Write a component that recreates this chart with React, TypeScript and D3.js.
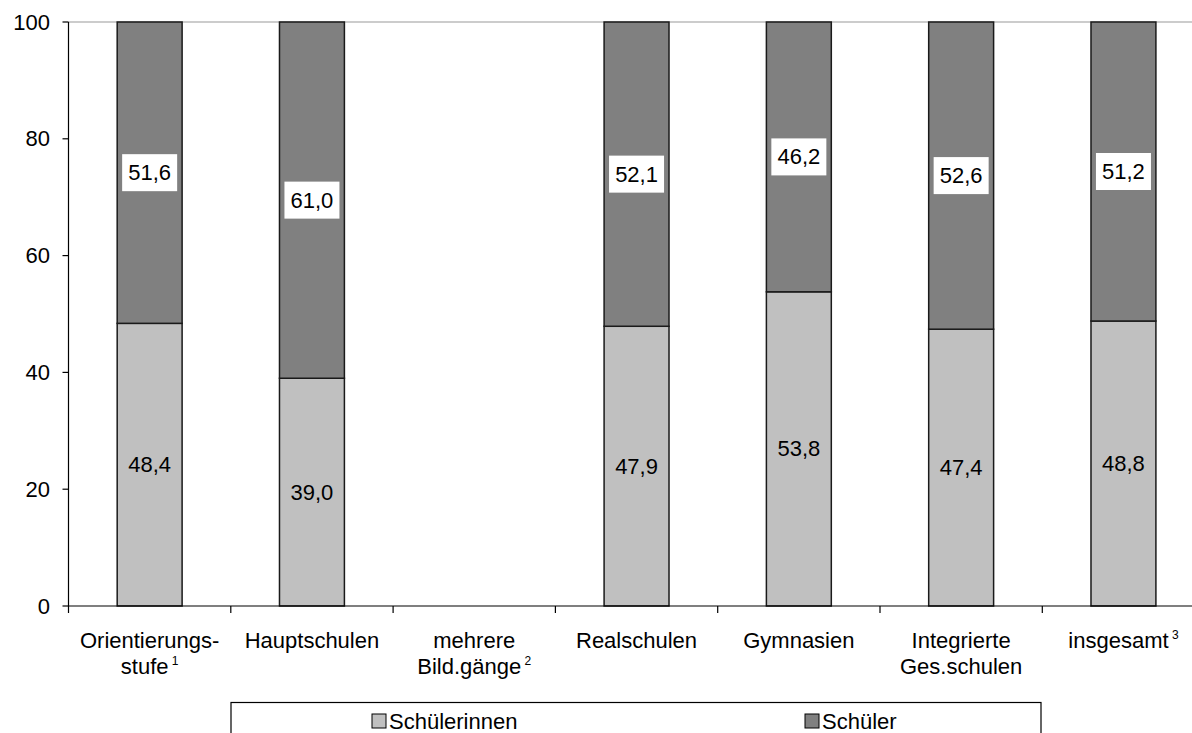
import React from "react";
import * as d3 from "d3";

const categories = ["Orientierungsstufe", "Hauptschulen", "mehrere Bild.gänge", "Realschulen", "Gymnasien", "Integrierte Ges.schulen", "insgesamt"];
const labelLines: [string, string, string][] = [
  ["Orientierungs-", "stufe", "1"],
  ["Hauptschulen", "", ""],
  ["mehrere", "Bild.gänge", "2"],
  ["Realschulen", "", ""],
  ["Gymnasien", "", ""],
  ["Integrierte", "Ges.schulen", ""],
  ["insgesamt", "", "3"],
];
const schuelerinnen: (number | null)[] = [48.4, 39.0, null, 47.9, 53.8, 47.4, 48.8];
const schueler: (number | null)[] = [51.6, 61.0, null, 52.1, 46.2, 52.6, 51.2];
const yTicks = [0, 20, 40, 60, 80, 100];
const legendLabels = ["Schülerinnen", "Schüler"];
const colors = ["#c0c0c0", "#808080"];

const W = 1192;
const H = 733;
const left = 68.5;
const right = 68.5 + 7 * 162.3;
const top = 22;
const bottom = 606;
const FONT = "Arial, 'Liberation Sans', sans-serif";
const FS = 22;

const fmt = (v: number) => v.toFixed(1).replace(".", ",");

export default function App() {
  const x = d3.scaleBand<string>().domain(categories).range([left, right]).paddingInner(0.6).paddingOuter(0.3);
  const y = d3.scaleLinear().domain([0, 100]).range([bottom, top]);
  const step = x.step();
  const bw = x.bandwidth();

  return (
    <svg width={W} height={H} style={{ position: "absolute", left: 0, top: 0, background: "#fff" }} fontFamily={FONT}>
      <rect x={0} y={0} width={W} height={H} fill="#fff" />
      {/* top grid line */}
      <line x1={left} x2={right} y1={y(100)} y2={y(100)} stroke="#999" strokeWidth={1.2} />
      {/* bars */}
      {categories.map((c, i) => {
        const a = schuelerinnen[i];
        const b = schueler[i];
        if (a == null || b == null) return null;
        const x0 = x(c)!;
        const cx = x0 + bw / 2;
        const yA = y(a);
        const yB = y(a + b);
        const boxW = 55;
        const boxH = 37;
        const midA = (y(0) + yA) / 2;
        const midB = (yA + yB) / 2;
        return (
          <g key={c}>
            <rect x={x0} y={yA} width={bw} height={y(0) - yA} fill={colors[0]} stroke="#1a1a1a" strokeWidth={1.5} />
            <rect x={x0} y={yB} width={bw} height={yA - yB} fill={colors[1]} stroke="#1a1a1a" strokeWidth={1.5} />
            <text x={cx} y={midA} textAnchor="middle" dominantBaseline="central" fontSize={FS} fill="#000">{fmt(a)}</text>
            <rect x={cx - boxW / 2} y={midB - boxH / 2} width={boxW} height={boxH} fill="#fff" />
            <text x={cx} y={midB} textAnchor="middle" dominantBaseline="central" fontSize={FS} fill="#000">{fmt(b)}</text>
          </g>
        );
      })}
      {/* y axis */}
      <line x1={left} x2={left} y1={top} y2={bottom} stroke="#000" strokeWidth={1.2} />
      {yTicks.map((t) => (
        <g key={t}>
          <line x1={left - 6} x2={left} y1={y(t)} y2={y(t)} stroke="#000" strokeWidth={1.2} />
          <text x={50} y={y(t)} textAnchor="end" dominantBaseline="central" fontSize={FS} fill="#000">{t}</text>
        </g>
      ))}
      {/* x axis */}
      <line x1={left} x2={right} y1={bottom} y2={bottom} stroke="#000" strokeWidth={1.2} />
      {d3.range(categories.length + 1).map((i) => (
        <line key={i} x1={left + i * step} x2={left + i * step} y1={bottom} y2={bottom + 7} stroke="#000" strokeWidth={1.2} />
      ))}
      {categories.map((c, i) => {
        const cx = x(c)! + bw / 2;
        const [l1, l2, sup] = labelLines[i];
        return (
          <g key={c}>
            <text x={cx} y={648} textAnchor="middle" fontSize={FS} fill="#000">
              {l1}
              {sup && !l2 ? <tspan fontSize={12} dy={-9}>{" " + sup}</tspan> : null}
            </text>
            {l2 ? (
              <text x={cx} y={674} textAnchor="middle" fontSize={FS} fill="#000">
                {l2}
                {sup ? <tspan fontSize={12} dy={-9}>{" " + sup}</tspan> : null}
              </text>
            ) : null}
          </g>
        );
      })}
      {/* legend */}
      <rect x={231} y={702.5} width={810} height={50} fill="#fff" stroke="#000" strokeWidth={1.2} />
      {legendLabels.map((l, i) => {
        const sx = i === 0 ? 372 : 805;
        return (
          <g key={l}>
            <rect x={sx} y={714} width={14} height={14} fill={colors[i]} stroke="#000" strokeWidth={1} />
            <text x={sx + 17} y={729} fontSize={FS} fill="#000">{l}</text>
          </g>
        );
      })}
    </svg>
  );
}
